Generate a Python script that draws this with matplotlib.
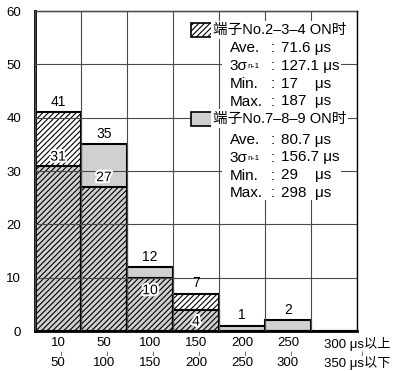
import numpy as np
import matplotlib
matplotlib.use("Agg")
import matplotlib.pyplot as plt
from matplotlib.patches import Rectangle
import matplotlib.patheffects as pe
import matplotlib.transforms as mtransforms

plt.rcParams['font.family'] = ['Liberation Sans', 'Noto Sans CJK SC', 'DejaVu Sans']
plt.rcParams['hatch.linewidth'] = 0.8
plt.rcParams['font.size'] = 9.5

# Histogram bins (response time, μs)
bin_low = ['10', '50', '100', '150', '200', '250', '300 μs以上']
bin_high = ['50', '100', '150', '200', '250', '300', '350 μs以下']

# Counts per bin for each terminal group
counts_234 = [41, 27, 10, 7, 0, 0, 0]
counts_789 = [31, 35, 12, 4, 1, 2, 0]

# Summary statistics (figure spaces keep the unit column lined up)
legend_labels = ['端子No.2–3–4 ON时', '端子No.7–8–9 ON时']
stat_names = ['Ave.', '3σ', 'Min.', 'Max.']
stats_234 = ['71.6 μs', '127.1 μs', '17\u2007\u2007μs', '187\u2007μs']
stats_789 = ['80.7 μs', '156.7 μs', '29\u2007\u2007μs', '298\u2007μs']

y_ticks = [0, 10, 20, 30, 40, 50, 60]

GRAY = '#d0d0d0'
HATCH = '//////'
TICK_FS = 9.5
HEADER_FS = 10.5
STAT_FS = 11
VALUE_FS = 10

fig = plt.figure(figsize=(3.93, 3.71), dpi=100)
ax = fig.add_axes([35 / 393, 40 / 371, 322 / 393, 320 / 371])

n = len(counts_234)
x = np.arange(n) + 0.5

ax.bar(x, counts_789, width=1.0, color=GRAY, edgecolor='black',
       linewidth=1.5, zorder=1)
ax.bar(x, counts_234, width=1.0, facecolor='none', edgecolor='black',
       hatch=HATCH, linewidth=1.5, zorder=1.2)

ax.set_xlim(0, n)
ax.set_ylim(0, 60)
ax.set_yticks(y_ticks)

# grid at bin edges (major), labels at bin centres (minor)
ax.set_xticks(np.arange(n + 1))
ax.set_xticklabels([''] * (n + 1))
ax.set_xticks(x, minor=True)
ax.set_xticklabels(bin_low, minor=True)
ax.tick_params(axis='both', which='both', length=0)
ax.tick_params(axis='y', pad=10, labelsize=TICK_FS)
ax.tick_params(axis='x', which='minor', pad=4.5, labelsize=TICK_FS)
ax.grid(True, which='major', color='#4a4a4a', linewidth=0.8)
ax.set_axisbelow(False)

ax.spines['left'].set_linewidth(2)
ax.spines['bottom'].set_linewidth(2)
ax.spines['top'].set_linewidth(1)
ax.spines['right'].set_linewidth(1)

# last bin label sits further right
shift_last = mtransforms.ScaledTranslation(23 / 100, 0, fig.dpi_scale_trans)
last = ax.get_xticklabels(minor=True)[-1]
last.set_transform(last.get_transform() + shift_last)

# second line of each bin label and the small wave mark between the lines
below_tr = mtransforms.blended_transform_factory(ax.transData, ax.transAxes)
for i, xi in enumerate(x):
    tr = below_tr + shift_last if i == n - 1 else below_tr
    ax.text(xi, -31.5 / 320, bin_high[i], ha='center', va='center',
            fontsize=TICK_FS, transform=tr, clip_on=False)
    dx = 28 if i == n - 1 else 3
    ax.text(xi, -22.5 / 320, '≀', fontsize=5, ha='center',
            va='center', family=['DejaVu Sans'],
            transform=below_tr + mtransforms.ScaledTranslation(
                dx / 100, 0, fig.dpi_scale_trans), clip_on=False)

# value labels
inner_offsets = [1.5, 2.0, -4.0, -3.5]
stroke = [pe.withStroke(linewidth=3, foreground='white')]
for i, (a, b) in enumerate(zip(counts_234, counts_789)):
    top = max(a, b)
    if top > 0:
        ax.annotate(str(top), (x[i], top), xytext=(0, 7.5),
                    textcoords='offset points', ha='center', va='center',
                    fontsize=VALUE_FS, zorder=5)
    low = min(a, b)
    if low > 0:
        off = inner_offsets[i]
        ax.annotate(str(low), (x[i], low), xytext=(0, off),
                    textcoords='offset points', ha='center',
                    va='bottom' if off > 0 else 'top', fontsize=VALUE_FS,
                    zorder=5, path_effects=stroke)


# legend with statistics
def fx(px):
    return (px - 35) / 322


def fy(py):
    return (331 - py) / 320


def legend_block(label, stats, box_y, row_ys, hatched):
    # white panel behind the statistics rows
    top_px, bot_px = box_y - 7, row_ys[-1] + 7
    ax.add_patch(Rectangle((fx(222), fy(bot_px)), (341 - 222) / 322,
                           (bot_px - top_px) / 320, transform=ax.transAxes,
                           facecolor='white', edgecolor='none', zorder=5.5))
    box = Rectangle((fx(191), fy(box_y + 7)), 21 / 322, 14 / 320,
                    transform=ax.transAxes, clip_on=False, zorder=6,
                    facecolor='white' if hatched else GRAY,
                    edgecolor='black', linewidth=1.2,
                    hatch=HATCH if hatched else None)
    ax.add_patch(box)
    ax.text(fx(213), fy(box_y), label, transform=ax.transAxes, ha='left',
            va='center', fontsize=HEADER_FS, zorder=6,
            bbox=dict(facecolor='white', edgecolor='none', pad=1.5))
    for name, val, ry in zip(stat_names, stats, row_ys):
        ax.text(fx(229.5), fy(ry), name, transform=ax.transAxes, ha='left',
                va='center', fontsize=STAT_FS, zorder=6)
        if name == '3σ':
            ax.text(fx(247), fy(ry + 0.5), 'n-1', transform=ax.transAxes,
                    ha='left', va='center', fontsize=6, zorder=6)
        ax.text(fx(273), fy(ry), ':', transform=ax.transAxes, ha='center',
                va='center', fontsize=STAT_FS, zorder=6)
        ax.text(fx(281), fy(ry), val, transform=ax.transAxes, ha='left',
                va='center', fontsize=STAT_FS, zorder=6)


legend_block(legend_labels[0], stats_234, 30, [48, 66, 84, 101.5], True)
legend_block(legend_labels[1], stats_789, 118.5, [140, 157.5, 175.5, 193], False)

fig.savefig('out.png', dpi=100)
